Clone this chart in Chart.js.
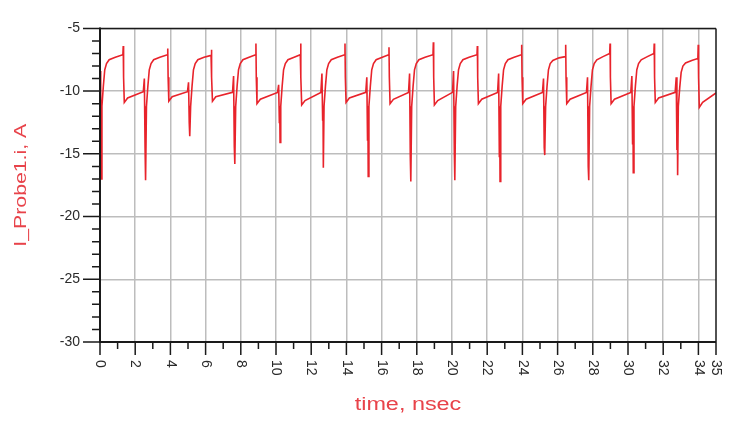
<!DOCTYPE html>
<html>
<head>
<meta charset="utf-8">
<script src="https://cdn.jsdelivr.net/npm/chart.js@4.4.0/dist/chart.umd.min.js"></script>
<style>
  html, body { margin: 0; padding: 0; background: #ffffff; }
  canvas { display: block; }
</style>
</head>
<body>
<canvas id="c" width="729" height="422"></canvas>
<script>
// ---- data ----
const timeNs = [
  0, 0.03, 0.05, 0.07, 0.11, 0.19, 0.27, 0.37, 0.52, 0.87, 1.30, 1.32, 1.34, 1.38, 1.57,
  2.46, 2.52, 2.56, 2.58, 2.60, 2.64, 2.72, 2.80, 2.90, 3.05, 3.40, 3.83, 3.85, 3.87, 3.91, 4.10,
  4.97, 5.03, 5.07, 5.09, 5.11, 5.15, 5.23, 5.31, 5.41, 5.56, 5.91, 6.31, 6.33, 6.35, 6.39, 6.58,
  7.53, 7.59, 7.63, 7.65, 7.67, 7.71, 7.79, 7.87, 7.97, 8.12, 8.47, 8.84, 8.86, 8.88, 8.92, 9.11,
  10.09, 10.15, 10.19, 10.21, 10.23, 10.27, 10.35, 10.43, 10.53, 10.68, 11.03, 11.38, 11.40, 11.42, 11.46, 11.65,
  12.55, 12.61, 12.65, 12.67, 12.69, 12.73, 12.81, 12.89, 12.99, 13.14, 13.49, 13.90, 13.92, 13.94, 13.98, 14.17,
  15.10, 15.16, 15.20, 15.22, 15.24, 15.28, 15.36, 15.44, 15.54, 15.69, 16.04, 16.40, 16.42, 16.44, 16.48, 16.67,
  17.53, 17.59, 17.63, 17.65, 17.67, 17.71, 17.79, 17.87, 17.97, 18.12, 18.47, 18.92, 18.94, 18.96, 19.00, 19.19,
  20.03, 20.09, 20.13, 20.15, 20.17, 20.21, 20.29, 20.37, 20.47, 20.62, 20.97, 21.42, 21.44, 21.46, 21.50, 21.69,
  22.59, 22.65, 22.69, 22.71, 22.73, 22.77, 22.85, 22.93, 23.03, 23.18, 23.53, 23.94, 23.96, 23.98, 24.02, 24.21,
  25.14, 25.20, 25.24, 25.26, 25.28, 25.32, 25.40, 25.48, 25.58, 25.73, 26.08, 26.44, 26.46, 26.48, 26.52, 26.71,
  27.64, 27.70, 27.74, 27.76, 27.78, 27.82, 27.90, 27.98, 28.08, 28.23, 28.58, 28.96, 28.98, 29.00, 29.04, 29.23,
  30.16, 30.22, 30.26, 30.28, 30.30, 30.34, 30.42, 30.50, 30.60, 30.75, 31.10, 31.47, 31.49, 31.51, 31.55, 31.74,
  32.68, 32.74, 32.78, 32.80, 32.82, 32.86, 32.94, 33.02, 33.12, 33.27, 33.62, 33.97, 33.99, 34.01, 34.05, 34.24,
  35.00
];
const currentA = [
  -8.4, -15.5, -11.2, -17.0, -11.2, -9.6, -8.3, -7.8, -7.5, -7.3, -7.1, -6.4, -8.9, -10.9, -10.55,
  -10.05, -9.0, -14.5, -11.2, -17.1, -11.2, -9.6, -8.3, -7.8, -7.5, -7.3, -7.1, -6.6, -8.9, -10.8, -10.45,
  -10.05, -9.3, -12.5, -11.2, -13.6, -11.2, -9.6, -8.3, -7.8, -7.5, -7.3, -7.15, -6.7, -8.9, -10.8, -10.45,
  -10.1, -8.8, -14.4, -11.2, -15.8, -11.2, -9.6, -8.3, -7.8, -7.5, -7.3, -7.1, -6.2, -8.9, -11.0, -10.65,
  -10.1, -9.5, -12.5, -11.2, -14.1, -11.2, -9.6, -8.3, -7.8, -7.5, -7.3, -7.1, -6.2, -8.9, -11.1, -10.75,
  -10.1, -8.6, -12.3, -11.2, -16.1, -11.2, -9.6, -8.3, -7.8, -7.5, -7.3, -7.1, -6.2, -8.9, -10.9, -10.55,
  -10.1, -8.9, -13.9, -11.2, -16.8, -11.2, -9.6, -8.3, -7.8, -7.5, -7.3, -7.1, -6.5, -8.9, -11.0, -10.65,
  -10.1, -8.6, -15.2, -11.2, -17.2, -11.2, -9.6, -8.3, -7.8, -7.5, -7.3, -7.1, -6.1, -8.9, -11.1, -10.75,
  -10.1, -8.4, -14.7, -11.2, -17.1, -11.2, -9.6, -8.3, -7.8, -7.5, -7.3, -7.1, -6.4, -8.9, -11.0, -10.65,
  -10.1, -8.6, -15.2, -11.2, -17.2, -11.2, -9.6, -8.3, -7.8, -7.5, -7.3, -7.1, -6.3, -8.9, -11.0, -10.65,
  -10.1, -9.0, -14.5, -11.2, -15.1, -11.2, -9.6, -8.3, -7.8, -7.55, -7.35, -7.25, -6.3, -8.9, -11.0, -10.65,
  -10.1, -8.9, -16.0, -11.2, -17.1, -11.2, -9.6, -8.3, -7.8, -7.5, -7.25, -7.0, -6.2, -8.9, -11.0, -10.65,
  -10.1, -8.8, -14.2, -11.2, -16.5, -11.2, -9.6, -8.3, -7.8, -7.5, -7.25, -7.0, -6.2, -8.9, -10.9, -10.55,
  -10.1, -8.9, -14.7, -11.2, -16.7, -11.2, -9.7, -8.5, -8.0, -7.75, -7.55, -7.4, -6.3, -8.9, -11.3, -10.9,
  -10.15
];
const xTickLabels = ['0','2','4','6','8','10','12','14','16','18','20','22','24','26','28','30','32','34','35'];
const xRange = [0, 35];
const yRange = [-30, -5];
const xTitle = 'time, nsec';
const yTitle = 'I_Probe1.i, A';

// ---- styles ----
const lineColor = '#e8232b';
const titleColor = '#e8434a';
const gridColor = '#bdbdbd';
const axisColor = '#1a1a1a';
const labelColor = '#2a2a2a';
const FONT = '"Liberation Sans", Arial, sans-serif';

const decorPlugin = {
  id: 'decor',
  afterDraw(chart) {
    const {ctx, chartArea: a, scales: {x, y}} = chart;
    ctx.save();
    // frame
    ctx.strokeStyle = axisColor;
    ctx.lineWidth = 1.5;
    ctx.beginPath();
    ctx.moveTo(a.left, a.top); ctx.lineTo(a.right, a.top);
    ctx.moveTo(a.right, a.top); ctx.lineTo(a.right, a.bottom);
    ctx.stroke();
    ctx.lineWidth = 2;
    ctx.beginPath();
    ctx.moveTo(a.left, a.top - 1); ctx.lineTo(a.left, a.bottom);
    ctx.lineTo(a.right, a.bottom);
    ctx.stroke();
    // x tick marks
    ctx.lineWidth = 1.5;
    ctx.beginPath();
    x.ticks.forEach(t => {
      const px = x.getPixelForValue(t.value);
      const major = (t.value % 2 === 0) || t.value === xRange[1];
      ctx.moveTo(px, a.bottom);
      ctx.lineTo(px, a.bottom + (major ? 13 : 7));
    });
    // y tick marks (every unit, longer at labelled values)
    for (let v = yRange[0]; v <= yRange[1]; v++) {
      const py = y.getPixelForValue(v);
      const major = v % 5 === 0;
      ctx.moveTo(a.left, py);
      ctx.lineTo(a.left - (major ? 17 : 8), py);
    }
    ctx.stroke();
    // x tick labels, rotated clockwise
    ctx.fillStyle = labelColor;
    ctx.font = '14px ' + FONT;
    ctx.textAlign = 'left';
    ctx.textBaseline = 'middle';
    xTickLabels.forEach(l => {
      const px = x.getPixelForValue(Number(l));
      ctx.save();
      ctx.translate(px, a.bottom + 18);
      ctx.rotate(Math.PI / 2);
      ctx.fillText(l, 0, 0);
      ctx.restore();
    });
    // titles
    ctx.fillStyle = titleColor;
    ctx.font = '18px ' + FONT;
    ctx.textAlign = 'center';
    ctx.textBaseline = 'alphabetic';
    ctx.save();
    ctx.translate((a.left + a.right) / 2, 410);
    ctx.scale(1.3, 1);
    ctx.fillText(xTitle, 0, 0);
    ctx.restore();
    ctx.font = '17px ' + FONT;
    ctx.save();
    ctx.translate(26, (a.top + a.bottom) / 2);
    ctx.rotate(-Math.PI / 2);
    ctx.scale(1.25, 1);
    ctx.fillText(yTitle, 0, 0);
    ctx.restore();
    ctx.restore();
  }
};

new Chart(document.getElementById('c'), {
  type: 'line',
  data: {
    datasets: [{
      data: timeNs.map((t, i) => ({x: t, y: currentA[i]})),
      borderColor: lineColor,
      borderWidth: 1.6,
      pointRadius: 0,
      tension: 0,
      fill: false
    }]
  },
  options: {
    responsive: false,
    animation: false,
    devicePixelRatio: 1,
    layout: { padding: { top: 12, right: 13, left: 0, bottom: 0 } },
    plugins: { legend: { display: false }, tooltip: { enabled: false } },
    scales: {
      x: {
        type: 'linear',
        min: xRange[0], max: xRange[1],
        ticks: { stepSize: 1, display: false, autoSkip: false },
        grid: {
          drawTicks: false,
          lineWidth: 1.5,
          color: c => (c.tick && c.tick.value % 2 === 0) ? gridColor : 'rgba(0,0,0,0)'
        },
        border: { display: false },
        afterFit: s => { s.height = 80; }
      },
      y: {
        type: 'linear',
        min: yRange[0], max: yRange[1],
        ticks: { stepSize: 5, padding: 20, color: labelColor, font: { family: FONT, size: 14 } },
        grid: { drawTicks: false, lineWidth: 1.5, color: gridColor },
        border: { display: false },
        afterFit: s => { s.width = 100; }
      }
    }
  },
  plugins: [decorPlugin]
});
</script>
</body>
</html>
